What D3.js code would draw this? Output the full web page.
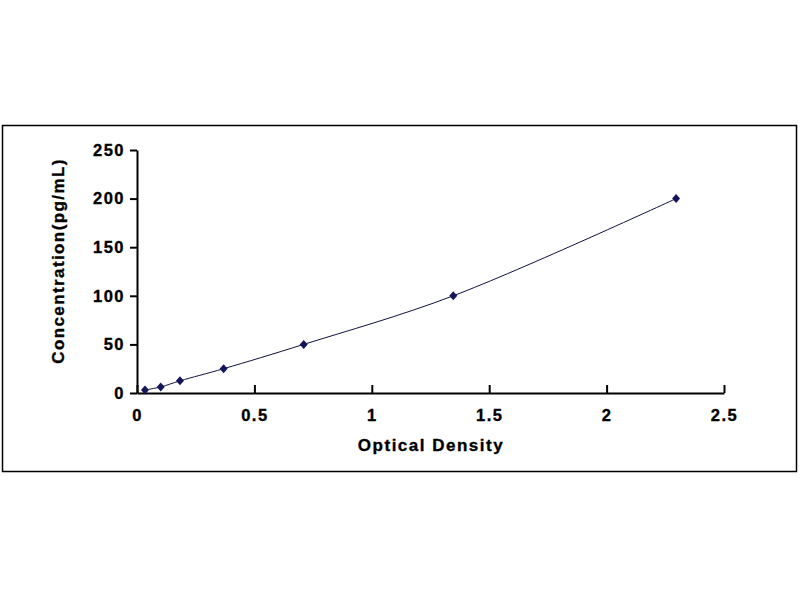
<!DOCTYPE html>
<html>
<head>
<meta charset="utf-8">
<script src="https://cdn.jsdelivr.net/npm/d3@7"></script>
<style>
  body { margin: 0; background: #fff; }
  text { font-family: "Liberation Sans", Arial, sans-serif; font-weight: bold; fill: #000; stroke: #000; stroke-width: 0.35px; }
</style>
</head>
<body>
<svg id="chart" width="800" height="600"></svg>
<script>
// Standard curve: optical density vs concentration
const od = [0.034, 0.101, 0.183, 0.369, 0.710, 1.347, 2.296];
const conc = [3.12, 6.25, 12.5, 25, 50, 100, 200];
const xTicks = [0, 0.5, 1, 1.5, 2, 2.5];
const yTicks = [0, 50, 100, 150, 200, 250];

const svg = d3.select("#chart");

// outer frame
svg.append("rect")
  .attr("x", 2.5).attr("y", 125.5)
  .attr("width", 794).attr("height", 346)
  .attr("fill", "none")
  .attr("stroke", "#000")
  .attr("stroke-width", 1.5);

const x = d3.scaleLinear().domain([0, 2.5]).range([137, 724]);
const y = d3.scaleLinear().domain([0, 250]).range([393, 150]);

// x axis, ticks point inward (up)
const gx = svg.append("g")
  .attr("transform", `translate(0,${y(0)})`)
  .call(d3.axisBottom(x).tickValues(xTicks).tickSize(-8).tickSizeOuter(0)
    .tickFormat(d3.format("")));
gx.select(".domain").attr("stroke-width", 2);
gx.selectAll(".tick line").attr("stroke-width", 2);
gx.selectAll(".tick text")
  .attr("y", 16)
  .style("font-size", "16.5px")
  .style("letter-spacing", "1.5px");

// y axis, ticks outward
const gy = svg.append("g")
  .attr("transform", `translate(${x(0)},0)`)
  .call(d3.axisLeft(y).tickValues(yTicks).tickSize(7).tickSizeOuter(0));
gy.select(".domain").attr("stroke-width", 2);
gy.selectAll(".tick line").attr("stroke-width", 2);
gy.selectAll(".tick text")
  .attr("x", -12)
  .style("font-size", "16.5px")
  .style("letter-spacing", "1.5px");
svg.selectAll(".tick text")
  .style("font-family", "Liberation Sans, Arial, sans-serif")
  .style("font-weight", "bold")
  .style("stroke", "#000")
  .style("stroke-width", "0.35px");

// axis titles
svg.append("text")
  .attr("x", 431).attr("y", 451)
  .attr("text-anchor", "middle")
  .style("font-size", "17px")
  .style("letter-spacing", "1.5px")
  .text("Optical Density");

svg.append("text")
  .attr("transform", "translate(64,261) rotate(-90)")
  .attr("text-anchor", "middle")
  .style("font-size", "17px")
  .style("letter-spacing", "1.4px")
  .text("Concentration(pg/mL)");

// fitted curve
const pts = od.map((v, i) => [v, conc[i]]);
svg.append("path")
  .datum(pts)
  .attr("fill", "none")
  .attr("stroke", "#101040")
  .attr("stroke-width", 1)
  .attr("d", d3.line().x(d => x(d[0])).y(d => y(d[1])).curve(d3.curveCatmullRom));

// diamond markers
svg.selectAll(".pt")
  .data(pts)
  .join("path")
  .attr("class", "pt")
  .attr("transform", d => `translate(${x(d[0])},${y(d[1])})`)
  .attr("d", "M0,-4.5L4,0L0,4.5L-4,0Z")
  .attr("fill", "#14145a");
</script>
</body>
</html>
